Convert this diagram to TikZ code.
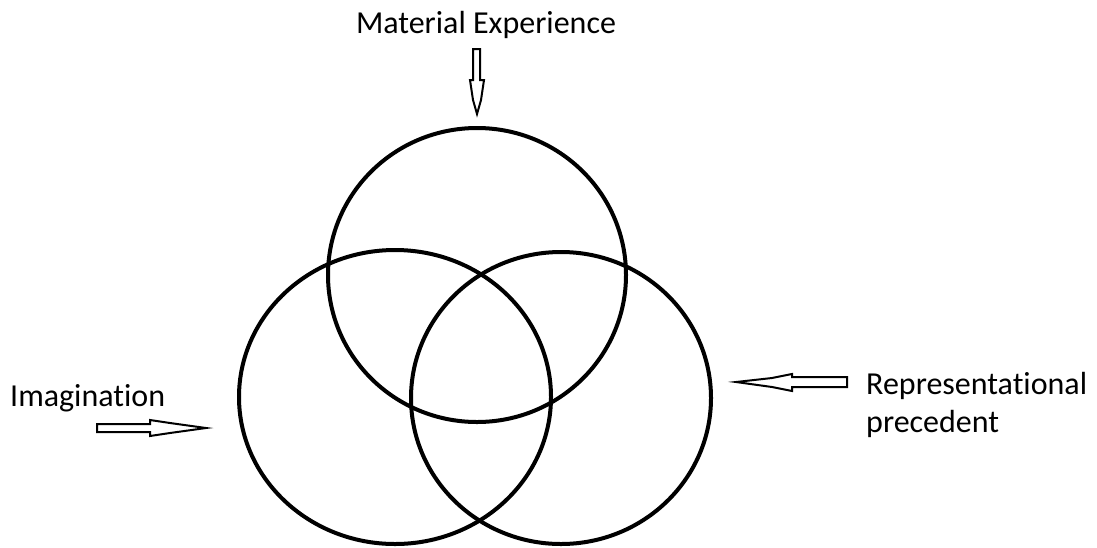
\documentclass[tikz,border=0pt]{standalone}
\usepackage{fontspec}
\setmainfont[Ligatures={NoCommon}]{Carlito}
\usetikzlibrary{shapes.geometric}
\begin{document}
\begin{tikzpicture}[x=1pt,y=-1pt,
  ring/.style={draw=black,line width=4pt,ellipse,inner sep=0pt},
  blockarrow/.style={draw=black,line width=2pt,fill=white,line join=miter},
  lbl/.style={font=\fontsize{32}{38}\selectfont,inner sep=0pt}]
\useasboundingbox (0,0) rectangle (1097,547);
\node[ring,minimum width=298pt,minimum height=294pt] (top) at (477,275) {};
\node[ring,minimum width=312pt,minimum height=294pt] (left) at (395,397) {};
\node[ring,minimum width=300pt,minimum height=292pt] (right) at (561,398) {};
\node[lbl,anchor=base] (me) at (486,33) {Material Experience};
\node[lbl,anchor=base west] (im) at (10,406) {Imagination};
\node[lbl,anchor=base west] (rp1) at (866,394) {Representational};
\node[lbl,anchor=base west] (rp2) at (866,432) {precedent};
% top arrow
\draw[blockarrow] (473,49) -- (480,49) -- (480,80) -- (484,80) -- (481,100) -- (477,114) -- (473,100) -- (470,80) -- (473,80) -- cycle;
% left arrow
\draw[blockarrow] (97,424) -- (150,424) -- (150,420) -- (170,423) -- (206,428) -- (170,433) -- (150,436) -- (150,432) -- (97,432) -- cycle;
% right arrow
\draw[blockarrow] (847,377) -- (792,377) -- (792,374) -- (772,378) -- (736,382) -- (772,387) -- (792,391) -- (792,387) -- (847,387) -- cycle;
\end{tikzpicture}
\end{document}
